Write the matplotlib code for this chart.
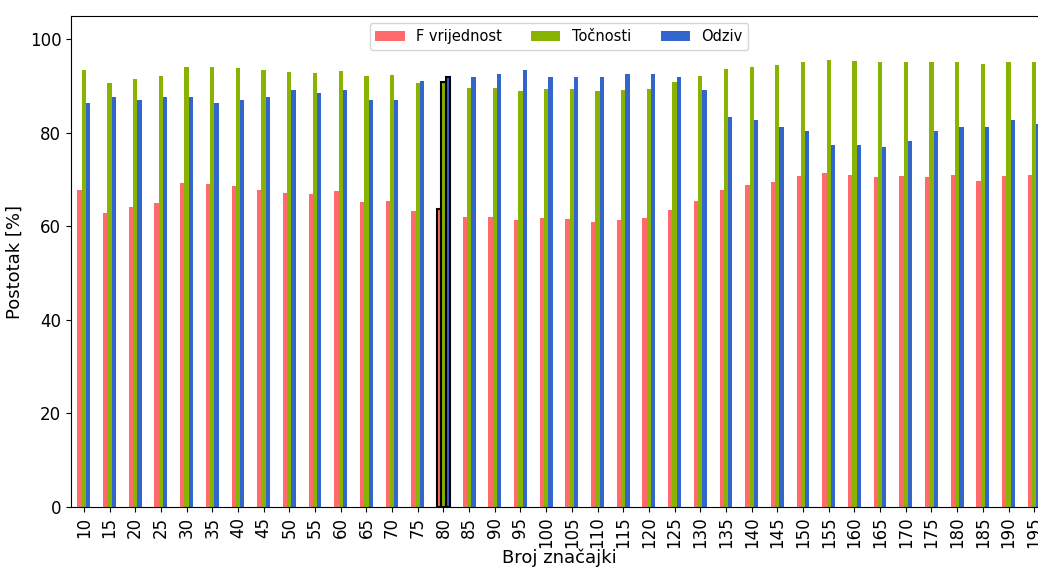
import numpy as np
import matplotlib
matplotlib.use("Agg")
import matplotlib.pyplot as plt

# broj značajki (kategorije na x osi)
features = list(range(10, 200, 5))

f_vrijednost = [67.7, 62.8, 64.1, 65.1, 69.3, 69.0, 68.6, 67.7, 67.1, 66.9,
                67.5, 65.2, 65.4, 63.2, 63.8, 62.1, 62.1, 61.3, 61.8, 61.5,
                60.9, 61.3, 61.9, 63.6, 65.4, 67.7, 68.8, 69.5, 70.7, 71.5,
                70.9, 70.5, 70.8, 70.5, 70.9, 69.8, 70.8, 71.1]
tocnosti = [93.4, 90.6, 91.5, 92.1, 94.1, 94.1, 93.9, 93.4, 93.1, 92.9,
            93.2, 92.2, 92.4, 90.6, 90.8, 89.7, 89.7, 88.9, 89.4, 89.3,
            88.9, 89.1, 89.4, 90.8, 92.1, 93.6, 94.1, 94.6, 95.1, 95.5,
            95.3, 95.1, 95.1, 95.1, 95.1, 94.8, 95.1, 95.1]
odziv = [86.3, 87.7, 87.0, 87.7, 87.7, 86.3, 87.0, 87.7, 89.2, 88.5,
         89.2, 87.0, 87.0, 91.2, 91.9, 91.9, 92.6, 93.4, 91.9, 91.9,
         91.9, 92.6, 92.6, 91.9, 89.1, 83.3, 82.7, 81.2, 80.5, 77.5,
         77.5, 76.9, 78.2, 80.5, 81.2, 81.2, 82.7, 82.0]

best = 80  # istaknuta kategorija

series = [("F vrijednost", f_vrijednost, "#ff6b6b"),
          ("Točnosti", tocnosti, "#88b300"),
          ("Odziv", odziv, "#3366cc")]

fig = plt.figure(figsize=(10.38, 5.68), dpi=100)
ax = fig.add_axes([0.0684, 0.1074, 0.9403, 0.8644])

x = np.arange(len(features))
width = 0.5 / 3
best_idx = features.index(best)

for i, (name, vals, color) in enumerate(series):
    bars = ax.bar(x + (i - 1) * width, vals, width, color=color, label=name)
    bars[best_idx].set_edgecolor("black")
    bars[best_idx].set_linewidth(1.5)

ax.set_xticks(x)
ax.set_xticklabels(features, rotation=90)
ax.set_xlim(-0.5, len(features) - 0.5)
ax.set_ylim(0, 105)
ax.tick_params(labelsize=12)
ax.set_xlabel("Broj značajki", fontsize=13, labelpad=0)
ax.set_ylabel("Postotak [%]", fontsize=13)
ax.legend(loc="upper center", ncol=3, fontsize=10.5)

fig.savefig("out.png", dpi=100)
